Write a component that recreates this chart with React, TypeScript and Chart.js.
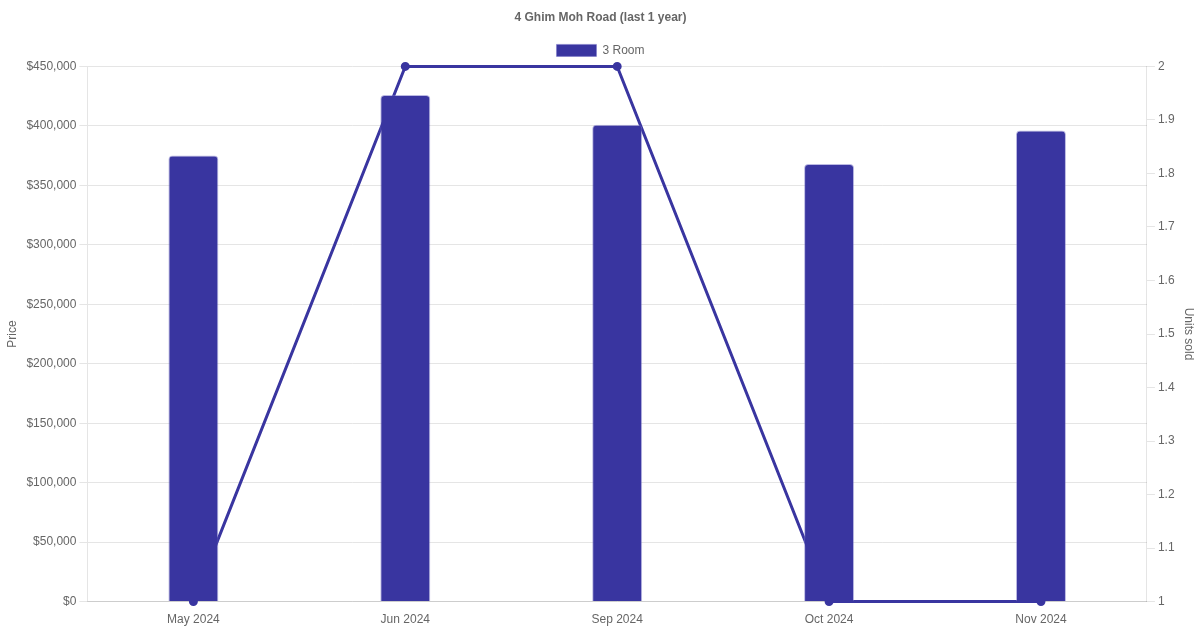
import React, { useEffect, useRef } from "react";
import { Chart, registerables } from "chart.js";

Chart.register(...registerables);

const categories = ["May 2024", "Jun 2024", "Sep 2024", "Oct 2024", "Nov 2024"];
const prices = [375000, 426000, 401000, 368000, 396000];
const unitsSold = [1, 2, 2, 1, 1];
const titleText = "4 Ghim Moh Road (last 1 year)";
const seriesLabel = "3 Room";

const COLOR = "#3935a0";

export default function App() {
  const ref = useRef<HTMLCanvasElement | null>(null);
  useEffect(() => {
    document.body.style.margin = "0";
    Chart.defaults.font.family = "'Liberation Sans', Arial, Helvetica, sans-serif";
    Chart.defaults.font.size = 12;
    Chart.defaults.color = "#666";
    const chart = new Chart(ref.current!, {
      data: {
        labels: categories,
        datasets: [
          {
            type: "bar",
            label: seriesLabel,
            data: prices,
            backgroundColor: COLOR,
            borderColor: "rgba(120,116,200,0.5)",
            borderWidth: 1,
            borderRadius: 4,
            borderSkipped: "bottom",
            maxBarThickness: 50,
            yAxisID: "y",
          },
          {
            type: "line",
            label: "Units sold",
            data: unitsSold,
            borderColor: COLOR,
            backgroundColor: COLOR,
            borderWidth: 3,
            pointRadius: 3,
            tension: 0,
            fill: false,
            clip: 6,
            yAxisID: "y1",
          },
        ],
      },
      options: {
        responsive: false,
        animation: false,
        layout: { padding: { left: 1 } },
        plugins: {
          title: {
            display: true,
            text: titleText,
            font: { weight: "bold", size: 12 },
            color: "#666",
            padding: { top: 10, bottom: 10 },
          },
          legend: {
            display: true,
            labels: {
              filter: (item: any) => item.text === seriesLabel,
              boxWidth: 40,
            },
          },
          tooltip: { enabled: false },
        },
        scales: {
          x: {
            grid: { display: false },
            ticks: { color: "#666" },
          },
          y: {
            position: "left",
            min: 0,
            max: 450000,
            ticks: {
              stepSize: 50000,
              color: "#666",
              callback: (v: any) => "$" + Number(v).toLocaleString("en-US"),
            },
            title: { display: true, text: "Price", color: "#666" },
            grid: { color: "#e5e5e5" },
          },
          y1: {
            position: "right",
            min: 1,
            max: 2,
            ticks: {
              stepSize: 0.1,
              color: "#666",
              callback: (v: any) => String(Math.round(Number(v) * 10) / 10),
            },
            title: { display: true, text: "Units sold", color: "#666" },
            grid: { drawOnChartArea: false, color: "#e5e5e5" },
          },
        },
      },
    } as any);
    return () => chart.destroy();
  }, []);
  return <canvas ref={ref} width={1200} height={630} style={{ display: "block" }} />;
}
